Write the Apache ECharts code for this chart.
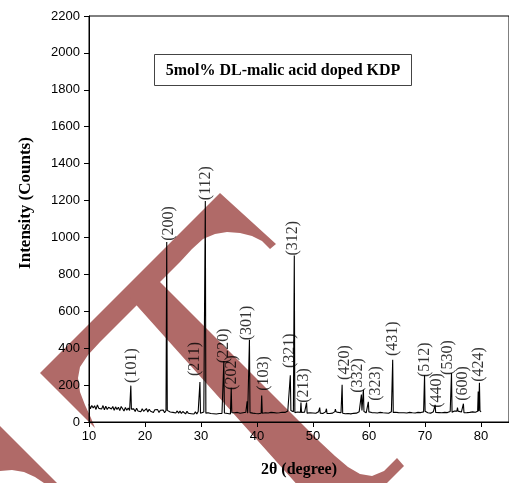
<!DOCTYPE html>
<html><head><meta charset="utf-8">
<script src="https://cdn.jsdelivr.net/npm/echarts@6/dist/echarts.min.js"></script>
<style>html,body{margin:0;padding:0;background:#fff}#c{width:509px;height:483px}</style>
</head><body><div id="c"></div>
<script>
// ---- data ----
const baselineStart = 10;      // 2θ of first baseline sample
const baselineStep = 0.25;     // sampling step of the baseline
const baselineCounts = [
  96,72,90,76, 88,68,92,74, 84,70,89,66, 86,68,80,90, 70,84,64,82,
  68,80,62,84, 72,60,79,64, 76,62,70,60, 71,57,75,60, 69,55,72,58,
  67,73,54,69, 58,68,52,66, 56,67,51,64, 54,65,50,62, 63,67,54,64,
  52,62,49,60, 48,59,46,57, 54,44,58,47, 56,45,53,43, 55,44,57,47,
  50,46,54,48, 57,50,53,46, 51,45,49,43, 50,46,53,47, 49,44,52,46,
  48,43,51,45, 50,44,52,46, 47,43,50,45, 53,48,56,51, 55,48,52,46,
  50,45,52,47, 53,46,50,44, 49,45,52,47, 51,44,49,46, 50,45,53,47,
  52,56,60,57, 62,58,55,51, 49,54,47,52, 50,46,53,48, 52,46,50,45,
  49,53,47,51, 56,48,52,46, 50,55,47,51, 46,50,48,53, 56,49,52,46,
  50,47,52,45, 51,46,49,44, 50,47,53,48, 52,56,58,62, 57,54,50,53,
  55,48,51,46, 50,45,49,47, 52,46,50,45, 49,53,47,51, 56,52,49,53,
  47,51,45,50, 46,50,44,49, 48,52,46,50, 45,49,47,52, 48,51,50,55,
  58,54,50,52, 48,53,56,52, 54,48,51,47, 50,46,52,48, 51,55,57,53,
  56,60,55,59, 52,57,54,50, 53,48,51,47, 52,48,55,50, 53,57,58,62,
  54
];
const peakAngles = [17.47,23.88,29.81,30.77,34.08,35.40,38.24,38.65,40.84,45.95,46.66,47.85,48.85,51.2,52.4,54.0,55.20,58.64,59.00,59.88,64.23,69.92,71.81,74.73,75.8,76.86,79.5,79.72];
const peakCounts = [197,976,217,1198,330,185,112,445,143,253,902,105,105,78,72,70,202,149,176,109,337,253,93,265,78,99,165,212];

const hklLabels = ['(101)','(200)','(211)','(112)','(220)','(202)','(301)','(103)','(321)','(312)','(213)','(420)','(332)','(323)','(431)','(512)','(440)','(530)','(600)','(424)'];
const hklAngles = [17.6,24.24,28.86,30.77,34.1,35.54,38.12,41.14,45.77,46.45,48.35,55.74,58.05,61.2,64.28,69.94,72.11,74.07,76.74,79.58];
const hklCounts = [212,982,249,1202,319,174,443,169,292,902,104,228,158,115,357,244,77,255,115,218];

const xTicks = {min:10, max:85, step:10};
const yTicks = {min:0, max:2200, step:200};

// ---- build the pattern ----
const halfWidth = 0.1;
const baseAngles = baselineCounts.map((_, i) => baselineStart + i * baselineStep);
function nearestBase(a){
  let bi = 0, bd = 1e9;
  baseAngles.forEach((x, i) => { const d = Math.abs(x - a); if (d < bd) { bd = d; bi = i; } });
  return baselineCounts[bi];
}
let pts = [];
baseAngles.forEach((a, i) => {
  if (!peakAngles.some(p => Math.abs(p - a) <= halfWidth + 1e-9)) pts.push([a, baselineCounts[i]]);
});
peakAngles.forEach((a, i) => {
  const b = nearestBase(a);
  pts.push([a - halfWidth, b], [a, peakCounts[i]], [a + halfWidth, b]);
});
pts.sort((p, q) => p[0] - q[0]);

const labelData = hklLabels.map((n, i) => ({name: n, value: [hklAngles[i], hklCounts[i]]}));

// ---- decorative watermark (pixel shapes) ----
const wm = '#b06a68';
const wmA = [[276,244],[220,193],[40,373],[95,428],[91,418],[85,405],[80,392],[78,378],[80,367],[88,355],[100,342],[160,282],[180,262],[192,249],[203,239],[215,234],[227,232],[240,233],[252,236],[262,241],[270,249]];
const wmB = [[150,272],[320,442],[335,456],[348,467],[360,474],[372,476],[384,471],[397,458],[404,466],[381,489],[301,489],[130,298]];
const wmC = [[0,426],[57,483],[44,483],[35,477],[24,472],[12,470],[0,471]];

const chart = echarts.init(document.getElementById('c'), null, {renderer: 'canvas'});
const serif = '"Liberation Serif", "Times New Roman", serif';
const sans = '"Liberation Sans", Arial, sans-serif';
chart.setOption({
  animation: false,
  backgroundColor: '#fff',
  grid: {left: 89, top: 16, right: -1, bottom: 59, show: true, borderColor: '#000', borderWidth: 1, backgroundColor: 'transparent'},
  graphic: [
    {type: 'polygon', shape: {points: wmA}, style: {fill: wm}, z: -10, silent: true},
    {type: 'polygon', shape: {points: wmB}, style: {fill: wm}, z: -10, silent: true},
    {type: 'polygon', shape: {points: wmC}, style: {fill: wm}, z: -10, silent: true},
    {type: 'rect', shape: {x: 154.5, y: 54.5, width: 257, height: 31}, style: {fill: '#fff', stroke: '#444', lineWidth: 1}, z: 10},
    {type: 'text', x: 283, y: 71, style: {text: '5mol% DL-malic acid doped KDP', font: 'bold 16px ' + serif, fill: '#000', textAlign: 'center', textVerticalAlign: 'middle'}, z: 11}
  ],
  xAxis: {
    type: 'value', min: xTicks.min, max: xTicks.max, interval: xTicks.step,
    name: '2θ (degree)', nameLocation: 'middle', nameGap: 40,
    nameTextStyle: {fontFamily: serif, fontWeight: 'bold', fontSize: 16, color: '#000'},
    axisLine: {show: true, lineStyle: {color: '#000', width: 1}},
    axisTick: {show: true, length: 5, lineStyle: {color: '#000'}},
    axisLabel: {fontFamily: sans, fontSize: 13, color: '#000', margin: 8, showMaxLabel: false, formatter: v => String(v)},
    splitLine: {show: false}
  },
  yAxis: {
    type: 'value', min: yTicks.min, max: yTicks.max, interval: yTicks.step,
    name: 'Intensity (Counts)', nameLocation: 'middle', nameGap: 55, nameRotate: 90,
    nameTextStyle: {fontFamily: serif, fontWeight: 'bold', fontSize: 17, color: '#000', padding: [0,0,0,32]},
    axisLine: {show: true, lineStyle: {color: '#000', width: 1}},
    axisTick: {show: true, length: 5, lineStyle: {color: '#000'}},
    axisLabel: {fontFamily: sans, fontSize: 13, color: '#000', margin: 9, formatter: v => String(v)},
    splitLine: {show: false}
  },
  series: [
    {type: 'line', data: pts, showSymbol: false, symbol: 'none', lineStyle: {color: '#000', width: 1.1}, z: 5, silent: true},
    {type: 'scatter', data: labelData, symbolSize: 0, z: 6, silent: true,
     label: {show: true, formatter: '{b}', position: 'inside', rotate: 90, align: 'left', verticalAlign: 'middle',
             fontFamily: serif, fontSize: 16, color: '#000'}}
  ]
});
</script></body></html>
